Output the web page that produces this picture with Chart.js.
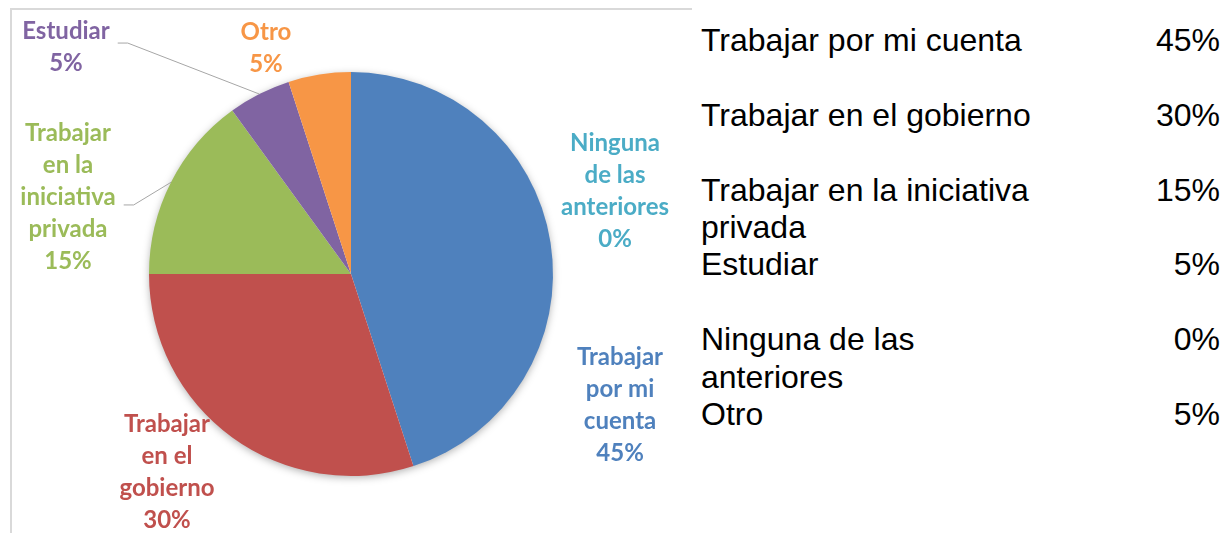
<!DOCTYPE html>
<html lang="es">
<head>
<meta charset="utf-8">
<title>Expectativas al terminar</title>
<script src="https://cdn.jsdelivr.net/npm/chart.js@4/dist/chart.umd.min.js"></script>
<style>
    html, body { margin: 0; padding: 0; background: #fff; }
    body { width: 1228px; height: 533px; position: relative; overflow: hidden; }
    #marco { position: absolute; left: 10px; top: 8px; width: 680px; height: 560px; border-top: 2px solid #d9d9d9; border-left: 2px solid #d9d9d9; }
    #grafico { position: absolute; left: 0; top: 0; width: 700px; height: 533px; }
    #tabla { position: absolute; left: 701px; top: 22px; width: 519px; font-family: "Liberation Sans", Arial, sans-serif; font-size: 32px; line-height: 37.4px; color: #000; }
    .fila { display: flex; min-height: 74.8px; }
    .nombre { width: 345px; }
    .valor { flex: 1; text-align: right; }
</style>
</head>
<body>
<div id="marco"></div>
<div id="grafico"><canvas id="pastel"></canvas></div>
<div id="tabla"></div>
<script>
"use strict";

// datos
var categorias = ["Trabajar por mi cuenta", "Trabajar en el gobierno", "Trabajar en la iniciativa privada", "Estudiar", "Ninguna de las anteriores", "Otro"];
var porcentajes = [45, 30, 15, 5, 0, 5];
var lineasEtiqueta = [
    ["Trabajar", "por mi", "cuenta"],
    ["Trabajar", "en el", "gobierno"],
    ["Trabajar", "en la", "iniciativa", "privada"],
    ["Estudiar"],
    ["Ninguna", "de las", "anteriores"],
    ["Otro"]
];
var colores = ["#4f81bd", "#c0504d", "#9bbb59", "#8064a2", "#4bacc6", "#f79646"];

// donde va cada etiqueta, en radios desde el centro del pastel
var posEtiquetas = [
    { dx: 1.332, dy: 0.651 },
    { dx: -0.911, dy: 0.983 },
    { dx: -1.401, dy: -0.379, guia: 7.5 },
    { dx: -1.411, dy: -1.121, guia: -4.5 },
    { dx: 1.307, dy: -0.408 },
    { dx: -0.421, dy: -1.119 }
];

// tabla de la derecha
var tabla = document.getElementById("tabla");
categorias.forEach(function (nombre, i) {
    var fila = document.createElement("div");
    fila.className = "fila";
    fila.innerHTML = '<div class="nombre"></div><div class="valor"></div>';
    fila.children[0].textContent = nombre;
    fila.children[1].textContent = porcentajes[i] + "%";
    tabla.appendChild(fila);
});

var etiquetasPastel = {
    id: "etiquetasPastel",
    beforeDatasetsDraw: function (chart) {
        var arco = chart.getDatasetMeta(0).data[0];
        var ctx = chart.ctx;
        ctx.save();
        ctx.shadowColor = "rgba(0, 0, 0, 0.35)";
        ctx.shadowBlur = 9;
        ctx.shadowOffsetY = 2;
        ctx.beginPath();
        ctx.arc(arco.x, arco.y, arco.outerRadius - 1, 0, 2 * Math.PI);
        ctx.fillStyle = "#fff";
        ctx.fill();
        ctx.restore();
    },
    afterDatasetsDraw: function (chart) {
        var ctx = chart.ctx;
        var arcos = chart.getDatasetMeta(0).data;
        var valores = chart.data.datasets[0].data;
        var altoLinea = 32;

        ctx.save();
        ctx.font = "bold 24px Lato, 'Open Sans', sans-serif";
        ctx.textAlign = "center";
        ctx.textBaseline = "middle";

        arcos.forEach(function (arco, i) {
            var r = arco.outerRadius;
            var pos = posEtiquetas[i];
            var cx = arco.x + pos.dx * r;
            var cy = arco.y + pos.dy * r;
            var lineas = lineasEtiqueta[i].concat([valores[i] + "%"]);
            var y0 = cy - (lineas.length - 1) * altoLinea / 2;
            var anchoMax = 0;

            ctx.fillStyle = colores[i];
            lineas.forEach(function (texto, j) {
                ctx.fillText(texto, cx, y0 + j * altoLinea);
                anchoMax = Math.max(anchoMax, ctx.measureText(texto).width);
            });

            if (pos.guia !== undefined) {
                var medio = (arco.startAngle + arco.endAngle) / 2;
                var bx = arco.x + Math.cos(medio) * r;
                var by = arco.y + Math.sin(medio) * r;
                var gx = cx + anchoMax / 2 + 8;
                var gy = cy + pos.guia;
                ctx.beginPath();
                ctx.moveTo(gx, gy);
                ctx.lineTo(gx + 10, gy);
                ctx.lineTo(bx, by);
                ctx.strokeStyle = "#a6a6a6";
                ctx.lineWidth = 1;
                ctx.stroke();
            }
        });
        ctx.restore();
    }
};

new Chart(document.getElementById("pastel"), {
    type: "pie",
    data: {
        labels: categorias,
        datasets: [{
            data: porcentajes,
            backgroundColor: colores,
            borderWidth: 0
        }]
    },
    plugins: [etiquetasPastel],
    options: {
        responsive: true,
        maintainAspectRatio: false,
        animation: false,
        layout: {
            padding: { left: 149, right: 147, top: 72, bottom: 57 }
        },
        plugins: {
            legend: { display: false },
            tooltip: { enabled: false }
        }
    }
});
</script>
</body>
</html>
